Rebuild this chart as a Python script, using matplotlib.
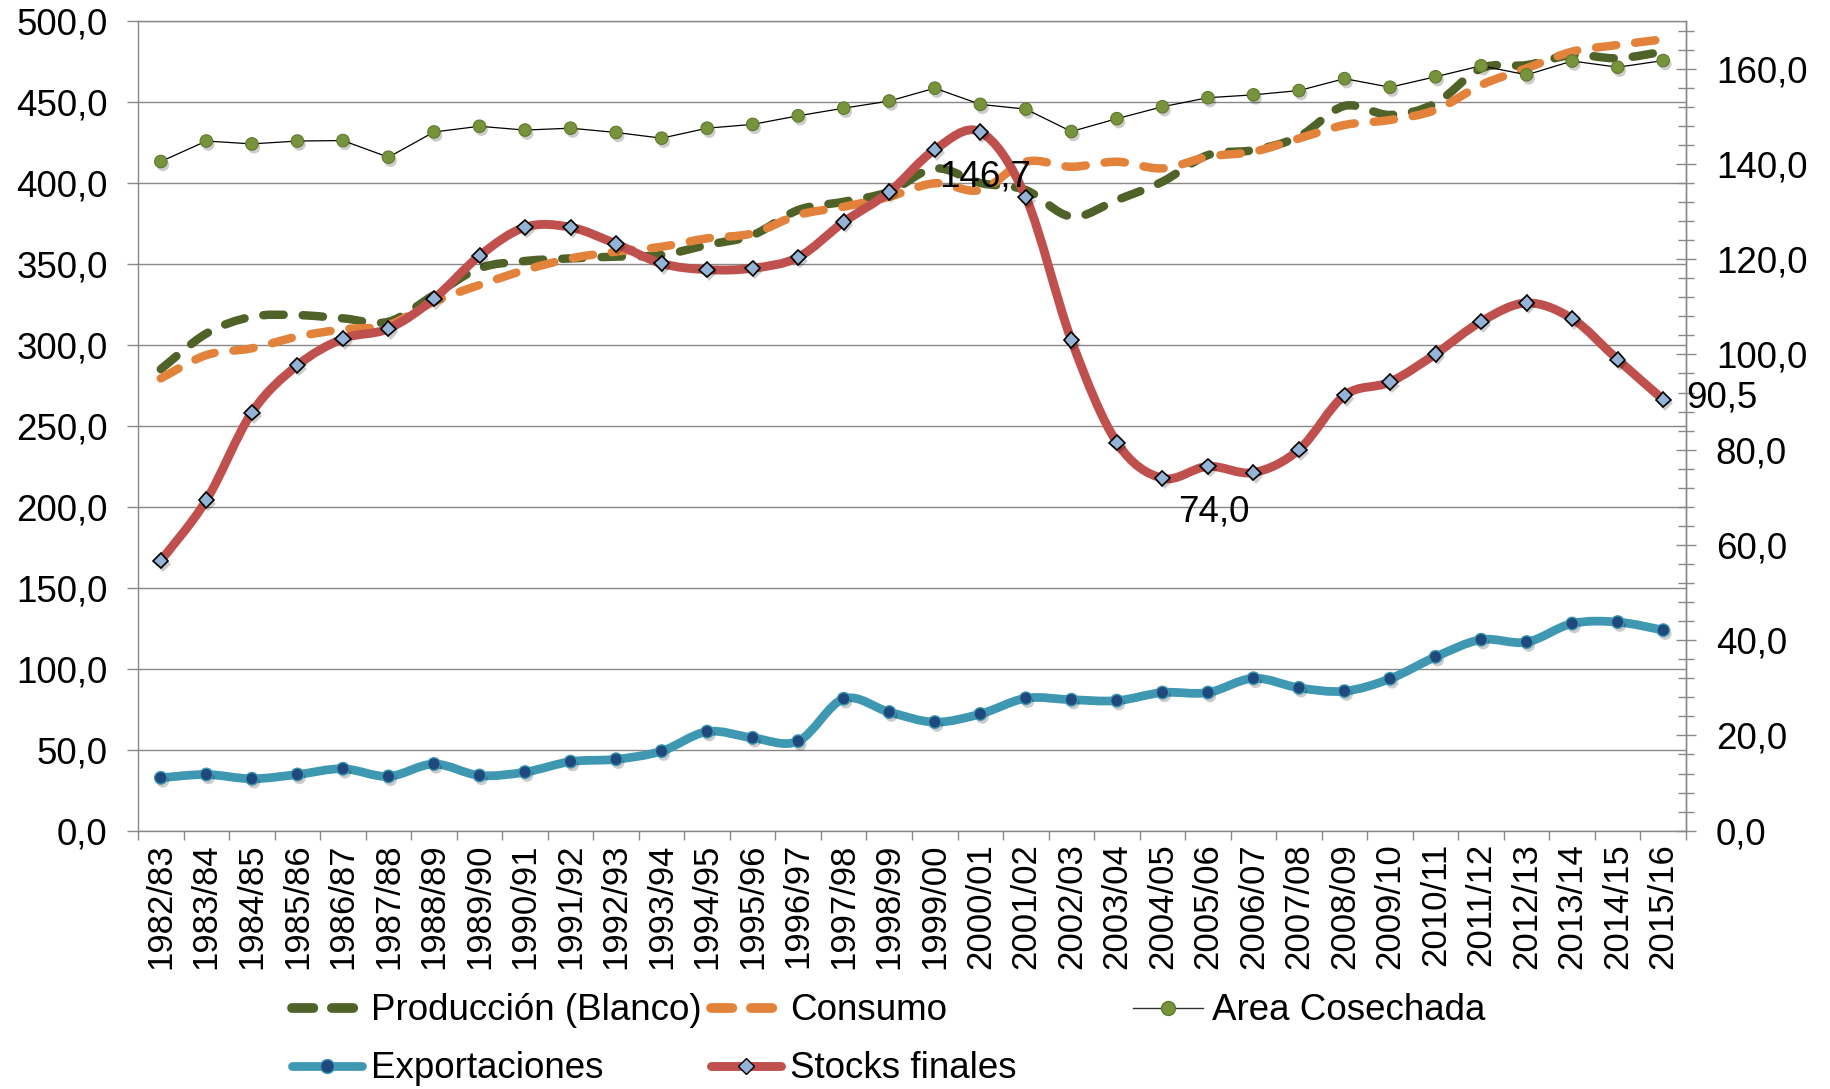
"""
Arroz mundial: produccion, consumo, area cosechada, exportaciones y stocks.
Left axis: produccion / consumo. Right axis: area, exportaciones, stocks.
"""

import numpy as np
import matplotlib
matplotlib.use('Agg')
import matplotlib.pyplot as plt
import matplotlib.patheffects as pe
from matplotlib.path import Path
from matplotlib.patches import PathPatch
from matplotlib.lines import Line2D
from matplotlib.ticker import FuncFormatter, MultipleLocator

plt.rcParams['font.family'] = ['Liberation Sans', 'DejaVu Sans']

campaigns = ['1982/83', '1983/84', '1984/85', '1985/86', '1986/87', '1987/88',
             '1988/89', '1989/90', '1990/91', '1991/92', '1992/93', '1993/94',
             '1994/95', '1995/96', '1996/97', '1997/98', '1998/99', '1999/00',
             '2000/01', '2001/02', '2002/03', '2003/04', '2004/05', '2005/06',
             '2006/07', '2007/08', '2008/09', '2009/10', '2010/11', '2011/12',
             '2012/13', '2013/14', '2014/15', '2015/16']

# left axis
produccion = [285.0, 307.0, 317.4, 318.4, 316.4, 314.3, 330.8, 347.3, 351.8,
              353.4, 354.5, 355.5, 361.7, 367.8, 383.3, 388.4, 394.6, 409.0,
              400.0, 395.6, 379.2, 389.5, 400.8, 417.2, 420.3, 428.6, 447.6,
              442.0, 449.2, 470.8, 472.8, 479.0, 477.0, 481.1]
consumo = [279.3, 293.7, 297.9, 305.1, 309.6, 312.3, 326.7, 337.0, 346.2,
           353.4, 357.6, 360.6, 365.8, 368.9, 380.2, 385.3, 391.5, 399.8,
           395.6, 413.1, 410.0, 413.1, 409.0, 416.2, 419.3, 427.5, 435.8,
           438.9, 445.1, 460.5, 470.8, 481.1, 485.2, 488.7]

# right axis
area = [140.5, 144.8, 144.2, 144.8, 144.9, 141.4, 146.7, 147.9, 147.1, 147.5,
        146.6, 145.4, 147.5, 148.3, 150.1, 151.7, 153.2, 155.9, 152.5, 151.5,
        146.8, 149.5, 152.0, 153.9, 154.5, 155.4, 157.9, 156.1, 158.3, 160.6,
        158.7, 161.6, 160.3, 161.7]
exportaciones = [11.1, 11.8, 10.9, 11.8, 13.0, 11.4, 14.0, 11.6, 12.3, 14.5,
                 15.0, 16.7, 20.8, 19.5, 18.8, 27.7, 24.9, 22.8, 24.5, 27.8,
                 27.5, 27.3, 29.0, 29.0, 32.0, 30.0, 29.3, 31.9, 36.5, 40.1,
                 39.6, 43.5, 43.8, 42.1]
stocks = [56.7, 69.4, 87.8, 97.7, 103.3, 105.4, 111.7, 120.7, 126.7, 126.7,
          123.2, 119.1, 117.8, 118.1, 120.4, 127.8, 134.1, 143.0, 146.7, 133.0,
          103.0, 81.5, 74.0, 76.5, 75.2, 80.0, 91.4, 94.2, 100.1, 106.9, 110.8,
          107.5, 98.9, 90.5]

# data labels on the stocks series: (campaign, offset px, alignment)
stock_labels = [('2000/01', (5, -45), 'center', 'center'),
                ('2004/05', (51, -34), 'center', 'center'),
                ('2015/16', (23, 2), 'left', 'center')]

C_PROD = '#4F6228'
C_CONS = '#E3823A'
C_AREA = '#77933C'
C_EXP = '#3E98B1'
C_EXP_MK = '#1F497D'
C_STK = '#C0504D'
C_STK_MK = '#95B3D7'
C_GRID = '#888888'
FS = 26.5
FS_X = 25

LW_DASH = 6.1
LW_EXP = 6.3
LW_STK = 6.4
MS_DOT = 9.0
MS_DIA = 7.8


def smooth_path(x, y):
    """Excel-like smoothed line: cubic bezier through every point."""
    pts = np.column_stack([x, y]).astype(float)
    n = len(pts)
    verts = [pts[0]]
    codes = [Path.MOVETO]
    for i in range(n - 1):
        p0 = pts[max(i - 1, 0)]
        p1 = pts[i]
        p2 = pts[i + 1]
        p3 = pts[min(i + 2, n - 1)]
        verts += [p1 + (p2 - p0) / 6, p2 - (p3 - p1) / 6, p2]
        codes += [Path.CURVE4] * 3
    return Path(verts, codes)


def comma(v, pos=None):
    return f'{v:.1f}'.replace('.', ',')


shadow = [pe.SimplePatchShadow(offset=(1.5, -2.5), shadow_rgbFace='black',
                               alpha=0.2), pe.Normal()]

fig = plt.figure(figsize=(18.31, 10.89), dpi=100)
ax = fig.add_axes([0.0754, 0.2372, 0.8454, 0.7435])
ax2 = ax.twinx()

x = np.arange(len(campaigns))
dash = (0, (2.4, 2.25))

# left axis series
ax.add_patch(PathPatch(smooth_path(x, produccion), fill=False, edgecolor=C_PROD,
                       lw=LW_DASH, linestyle=dash, capstyle='round', zorder=3))
ax.add_patch(PathPatch(smooth_path(x, consumo), fill=False, edgecolor=C_CONS,
                       lw=LW_DASH, linestyle=dash, capstyle='round', zorder=4))

# right axis series
ax2.plot(x, area, color='black', lw=0.9, zorder=3)
ax2.plot(x, area, ls='none', marker='o', ms=MS_DOT, mfc=C_AREA,
         mec='#5E7A2E', mew=0.8, zorder=3.5, path_effects=shadow)
ax2.add_patch(PathPatch(smooth_path(x, exportaciones), fill=False, edgecolor=C_EXP,
                        lw=LW_EXP, capstyle='round', joinstyle='round', zorder=4))
ax2.plot(x, exportaciones, ls='none', marker='o', ms=MS_DOT, mfc=C_EXP_MK,
         mec=C_EXP, mew=1.0, zorder=5, path_effects=shadow)
ax2.add_patch(PathPatch(smooth_path(x, stocks), fill=False, edgecolor=C_STK,
                        lw=LW_STK, capstyle='round', joinstyle='round', zorder=6))
ax2.plot(x, stocks, ls='none', marker='D', ms=MS_DIA, mfc=C_STK_MK,
         mec='black', mew=1.2, zorder=7, path_effects=shadow)

for camp, (dx, dy), ha, va in stock_labels:
    i = campaigns.index(camp)
    ax2.annotate(comma(stocks[i]), xy=(i, stocks[i]), xytext=(dx, dy),
                 textcoords='offset pixels', ha=ha, va=va, fontsize=FS,
                 zorder=8)

# axes
ax.set_xlim(-0.5, len(campaigns) - 0.5)
ax.set_ylim(0, 500)
ax2.set_ylim(0, 170)

ax.set_xticks(np.arange(-0.5, len(campaigns)), labels=[])
ax.set_xticks(x, labels=campaigns, minor=True)
ax.tick_params(axis='x', which='major', direction='out', length=6.5,
               width=1.0, color=C_GRID)
ax.tick_params(axis='x', which='minor', length=0, pad=9, labelsize=FS_X,
               labelrotation=90)

ax.set_yticks(np.arange(0, 501, 50))
ax.yaxis.set_major_formatter(FuncFormatter(comma))
ax.tick_params(axis='y', direction='out', length=8, width=1.0, color=C_GRID,
               pad=14, labelsize=FS)
ax.grid(axis='y', color=C_GRID, lw=1.0)
ax.set_axisbelow(True)

ax2.set_yticks(np.arange(0, 161, 20))
ax2.yaxis.set_minor_locator(MultipleLocator(4))
ax2.yaxis.set_major_formatter(FuncFormatter(comma))
ax2.tick_params(axis='y', which='major', direction='inout', length=15,
                width=1.0, color=C_GRID, pad=14, labelsize=FS)
ax2.tick_params(axis='y', which='minor', direction='inout', length=12,
                width=1.0, color=C_GRID)

for a in (ax, ax2):
    for side in ('left', 'right', 'bottom', 'top'):
        a.spines[side].set_color(C_GRID)
        a.spines[side].set_linewidth(1.0)
ax2.spines['left'].set_visible(False)
ax2.spines['bottom'].set_visible(False)
ax2.spines['top'].set_visible(False)

# legend: Excel style grid, equal column widths
leg_dash = (0, (2.2, 1.9))
h_prod = Line2D([], [], color=C_PROD, lw=7.0, linestyle=leg_dash,
                dash_capstyle='round')
h_cons = Line2D([], [], color=C_CONS, lw=7.0, linestyle=leg_dash,
                dash_capstyle='round')
h_area = Line2D([], [], color='#333333', lw=1.0, marker='o', ms=10,
                mfc=C_AREA, mec='#5E7A2E')
h_exp = Line2D([], [], color=C_EXP, lw=LW_EXP, marker='o', ms=10,
               mfc=C_EXP_MK, mec=C_EXP, solid_capstyle='round')
h_stk = Line2D([], [], color=C_STK, lw=LW_STK, marker='D', ms=MS_DIA,
               mfc=C_STK_MK, mec='black', solid_capstyle='round')

W, H = 1831, 1089
entries = [(h_prod, 'Producción (Blanco)', 292, 1011),
           (h_cons, 'Consumo', 711, 1011),
           (h_area, 'Area Cosechada', 1133, 1011),
           (h_exp, 'Exportaciones', 292, 1069),
           (h_stk, 'Stocks finales', 711, 1069)]
for h, lab, px, py in entries:
    fig.legend(handles=[h], labels=[lab], loc='center left',
               bbox_to_anchor=(px / W, 1 - py / H), frameon=False,
               borderpad=0, borderaxespad=0, handlelength=1.9,
               handletextpad=0.25, fontsize=FS)

fig.savefig('out.png', dpi=100)
